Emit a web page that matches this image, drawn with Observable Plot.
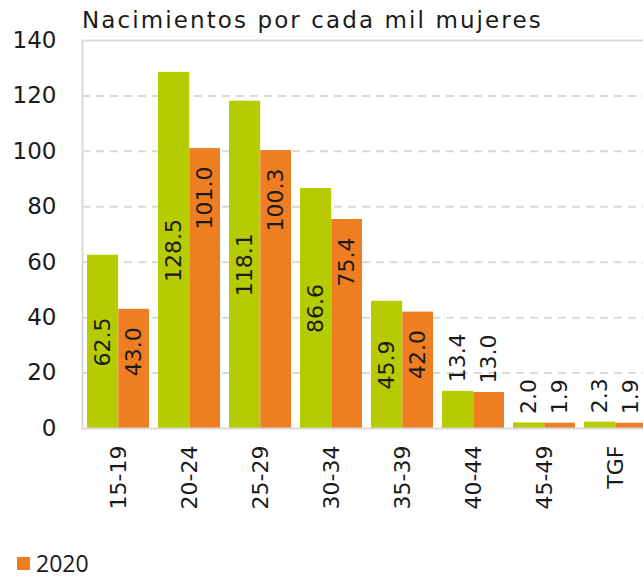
<!DOCTYPE html>
<html>
<head>
<meta charset="utf-8">
<script src="https://cdn.jsdelivr.net/npm/d3@7"></script>
<script src="https://cdn.jsdelivr.net/npm/@observablehq/plot@0.6"></script>
<style>
  html, body { margin: 0; padding: 0; background: #fff; }
  #wrap { position: relative; width: 643px; height: 580px; overflow: hidden; font-family: "DejaVu Sans", sans-serif; color: #1a1a1a; }
  #title { position: absolute; left: 82px; top: 8px; font-size: 23px; line-height: 24px; letter-spacing: 2.1px; white-space: nowrap; }
  #legend { position: absolute; left: 17px; top: 551px; font-family: "Open Sans", sans-serif; font-size: 23px; line-height: 24px; display: flex; align-items: center; gap: 6px; }
  #legend .sw { width: 13px; height: 13px; display: inline-block; }
  svg g[aria-label="y-axis tick label"] text { font-size: 23px; }
</style>
</head>
<body>
<div id="wrap">
  <div id="chart"></div>
  <div id="title">Nacimientos por cada mil mujeres</div>
  <div id="legend"><span class="sw" style="background:#ef7d22"></span><span>2020</span></div>
</div>
<script>
const categories = ["15-19", "20-24", "25-29", "30-34", "35-39", "40-44", "45-49", "TGF"];
const seriesNames = ["2019", "2020"];
const valuesGreen = [62.5, 128.5, 118.1, 86.6, 45.9, 13.4, 2.0, 2.3];
const valuesOrange = [43.0, 101.0, 100.3, 75.4, 42.0, 13.0, 1.9, 1.9];
const yTicks = [0, 20, 40, 60, 80, 100, 120, 140];

const GREEN = "#b7cc00";
const ORANGE = "#ef7d22";

const rows = categories.map((c, i) => ({cat: c, g: valuesGreen[i], o: valuesOrange[i]}));

const xRange = [82, 650];
const pInner = 0.132, pOuter = 0.066;
const step = (xRange[1] - xRange[0]) / (categories.length - pInner + 2 * pOuter);
const bw = step * (1 - pInner);
const half = bw / 2;
const q = bw / 4;
const threshold = 20;
const fmt = v => v.toFixed(1);

const chart = Plot.plot({
  width: 643,
  height: 550,
  marginTop: 40,
  marginLeft: 82,
  marginRight: 0,
  marginBottom: 122,
  style: {fontFamily: "DejaVu Sans, sans-serif", fontSize: "22px", color: "#1a1a1a", background: "#fff"},
  x: {domain: categories, range: xRange, paddingInner: pInner, paddingOuter: pOuter, tickSize: 0, tickRotate: -90, tickPadding: 17, label: null},
  y: {domain: [0, 140], ticks: yTicks, tickSize: 0, tickPadding: 26, label: null},
  marks: [
    Plot.ruleY(yTicks.filter(t => t > 0 && t < 140), {stroke: "#d9d9d9", strokeWidth: 2, strokeDasharray: "8,6"}),
    Plot.barY(rows, {x: "cat", y: "g", fill: GREEN, insetRight: half}),
    Plot.barY(rows, {x: "cat", y: "o", fill: ORANGE, insetLeft: half + 0.5}),
    Plot.frame({stroke: "#d9d9d9", strokeWidth: 2, insetRight: -6}),
    Plot.text(rows.filter(d => d.g >= threshold), {x: "cat", y: d => d.g / 2, text: d => fmt(d.g), rotate: -90, dx: -q, textAnchor: "middle", lineAnchor: "middle", fill: "#1a1a1a"}),
    Plot.text(rows.filter(d => d.g < threshold), {x: "cat", y: "g", text: d => fmt(d.g), rotate: -90, dx: -q, dy: -9, textAnchor: "start", lineAnchor: "middle", fill: "#1a1a1a"}),
    Plot.text(rows.filter(d => d.o >= threshold), {x: "cat", y: "o", text: d => fmt(d.o), rotate: -90, dx: q, dy: 18, textAnchor: "end", lineAnchor: "middle", fill: "#1a1a1a"}),
    Plot.text(rows.filter(d => d.o < threshold), {x: "cat", y: "o", text: d => fmt(d.o), rotate: -90, dx: q, dy: -9, textAnchor: "start", lineAnchor: "middle", fill: "#1a1a1a"})
  ]
});
document.getElementById("chart").appendChild(chart);
</script>
</body>
</html>
